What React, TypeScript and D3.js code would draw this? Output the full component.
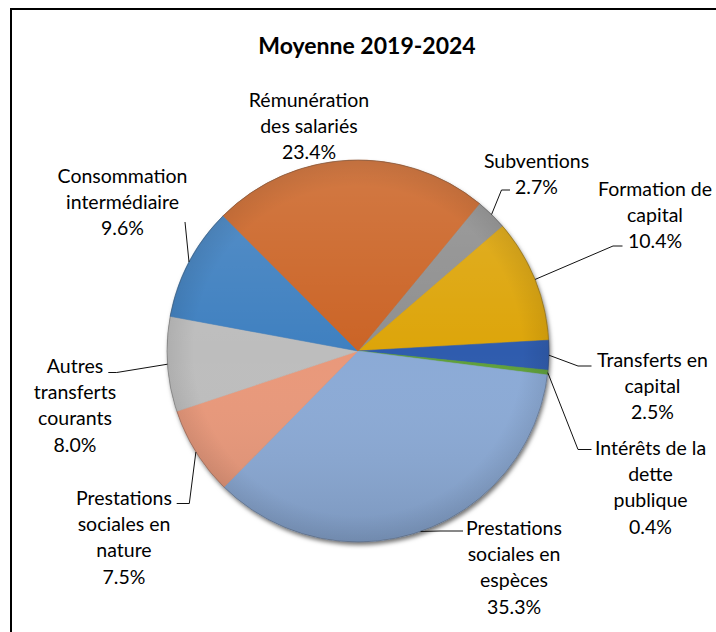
import React from 'react';
import * as d3 from 'd3';

// ---- data ----
const title = 'Moyenne 2019-2024';
const categories = [
  'Subventions',
  'Formation de capital',
  'Transferts en capital',
  'Intérêts de la dette publique',
  'Prestations sociales en espèces',
  'Prestations sociales en nature',
  'Autres transferts courants',
  'Consommation intermédiaire',
  'Rémunération des salariés',
];
const shares = [2.7, 10.4, 2.5, 0.4, 35.3, 7.5, 8.0, 9.6, 23.4];
const labelLines = [
  ['Subventions'],
  ['Formation de', 'capital'],
  ['Transferts en', 'capital'],
  ['Intérêts de la', 'dette', 'publique'],
  ['Prestations', 'sociales en', 'espèces'],
  ['Prestations', 'sociales en', 'nature'],
  ['Autres', 'transferts', 'courants'],
  ['Consommation', 'intermédiaire'],
  ['Rémunération', 'des salariés'],
];

// ---- styles / layout ----
const colors = ['#8F8F8F', '#DDA50A', '#2F5CAE', '#5FA03A', '#8BAAD6', '#E9987A', '#BDBDBD', '#3F80C0', '#CB6426'];
const labelLayout = [
  { x: 536.5, y: 168, elbow: [501.5, 190], end: [510, 190] },
  { x: 655, y: 195.5, elbow: [613, 246], end: [622.5, 246] },
  { x: 652.5, y: 366.5, elbow: [578, 366], end: [591.5, 366] },
  { x: 650.5, y: 455, elbow: [578, 449.5], end: [591.5, 449.5] },
  { x: 514, y: 535, elbow: [440, 531], end: [463, 531] },
  { x: 124, y: 505, elbow: [189.3, 503.5], end: [176.7, 503.5] },
  { x: 75, y: 373, elbow: [116.7, 372.5], end: [108.3, 372.5] },
  { x: 122.5, y: 183, elbow: [185, 222], end: [185, 222] },
  { x: 309, y: 106.5, elbow: null, end: null },
];
const W = 716, H = 632;
const CX = 358, CY = 351, R = 191;
const START_DEG = 39.5;
const LINE_H = 26.2;
const FONT = 'Lato, "Open Sans", sans-serif';

export default function App() {
  const pie = d3.pie<number>().sort(null).value((d) => d)
    .startAngle((START_DEG * Math.PI) / 180)
    .endAngle((START_DEG * Math.PI) / 180 + 2 * Math.PI);
  const arcs = pie(shares);
  const arc = d3.arc<d3.PieArcDatum<number>>().innerRadius(0).outerRadius(R);
  const fmt = d3.format('.1f');

  const edge = (a: d3.PieArcDatum<number>) => {
    const m = (a.startAngle + a.endAngle) / 2;
    return [CX + R * Math.sin(m), CY - R * Math.cos(m)];
  };

  return (
    <svg width={W} height={H} style={{ position: 'absolute', left: 0, top: 0, background: '#fff' }}
      fontFamily={FONT}>
      <defs>
        <filter id="shadow" x="-20%" y="-20%" width="140%" height="140%">
          <feDropShadow dx="1.5" dy="3" stdDeviation="2.2" floodColor="#000" floodOpacity="0.55" />
        </filter>
        <linearGradient id="shade" x1="0" y1="0" x2="0" y2="1">
          <stop offset="0" stopColor="#fff" stopOpacity="0.14" />
          <stop offset="0.5" stopColor="#fff" stopOpacity="0" />
          <stop offset="1" stopColor="#000" stopOpacity="0.12" />
        </linearGradient>
        <radialGradient id="rim" cx="0.5" cy="0.5" r="0.5">
          <stop offset="0.86" stopColor="#000" stopOpacity="0" />
          <stop offset="1" stopColor="#000" stopOpacity="0.08" />
        </radialGradient>
      </defs>
      <rect x={11} y={9} width={W + 20} height={H + 20} fill="none" stroke="#000" strokeWidth={2} />
      <text x={367} y={54} textAnchor="middle" fontWeight="bold" fontSize={23} fill="#000">{title}</text>

      <g>
        <circle cx={CX} cy={CY} r={R} fill="#888" filter="url(#shadow)" />
        <g transform={`translate(${CX},${CY})`}>
          {arcs.map((a, i) => (
            <path key={categories[i]} d={arc(a) || ''} fill={colors[i]} stroke={colors[i]} strokeWidth={0.6} />
          ))}
          <circle r={R} fill="url(#shade)" />
          <circle r={R} fill="url(#rim)" />
          <circle r={R} fill="none" stroke="rgba(60,60,60,0.4)" strokeWidth={0.8} />
        </g>
      </g>

      {arcs.map((a, i) => {
        const L = labelLayout[i];
        if (!L.end || !L.elbow) return null;
        const p = edge(a);
        const pts = [p, L.elbow, L.end];
        return (
          <path key={'l' + i} d={d3.line()(pts as [number, number][]) || ''} fill="none" stroke="#111" strokeWidth={1} />
        );
      })}

      {arcs.map((a, i) => {
        const L = labelLayout[i];
        const lines = [...labelLines[i], fmt(shares[i]) + '%'];
        return (
          <text key={'t' + i} textAnchor="middle" fontSize={19.5} fill="#000">
            {lines.map((s, j) => (
              <tspan key={j} x={L.x} y={L.y + j * LINE_H}>{s}</tspan>
            ))}
          </text>
        );
      })}
    </svg>
  );
}
